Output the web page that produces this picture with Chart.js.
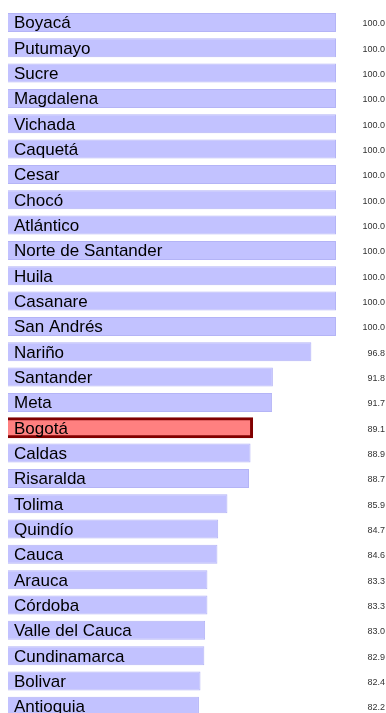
<!DOCTYPE html>
<html lang="es">
  <head>
    <meta charset="UTF-8" />
    <title>Cobertura por departamento</title>
    <script src="https://cdn.jsdelivr.net/npm/chart.js@4"></script>
    <style>
      html, body { margin: 0; padding: 0; background: #fff; overflow: hidden; }
      canvas { display: block; }
    </style>
  </head>
  <body>
    <canvas id="myChart" width="386" height="720"></canvas>
    <script>
      const departamentos = [
        "Boyacá", "Putumayo", "Sucre", "Magdalena", "Vichada", "Caquetá",
        "Cesar", "Chocó", "Atlántico", "Norte de Santander", "Huila",
        "Casanare", "San Andrés", "Nariño", "Santander", "Meta", "Bogotá",
        "Caldas", "Risaralda", "Tolima", "Quindío", "Cauca", "Arauca",
        "Córdoba", "Valle del Cauca", "Cundinamarca", "Bolivar", "Antioquia"
      ];
      const cobertura = [
        100.0, 100.0, 100.0, 100.0, 100.0, 100.0,
        100.0, 100.0, 100.0, 100.0, 100.0,
        100.0, 100.0, 96.8, 91.8, 91.7, 89.1,
        88.9, 88.7, 85.9, 84.7, 84.6, 83.3,
        83.3, 83.0, 82.9, 82.4, 82.2
      ];
      const destacado = "Bogotá";

      const isHighlight = (ctx) => departamentos[ctx.dataIndex] === destacado;

      // names inside the bars, values at the right edge
      const barLabels = {
        id: "barLabels",
        afterDatasetsDraw(chart) {
          const { ctx } = chart;
          const meta = chart.getDatasetMeta(0);
          ctx.save();
          meta.data.forEach((bar, i) => {
            ctx.fillStyle = "#000";
            ctx.font = "17px 'Liberation Sans', Arial, sans-serif";
            ctx.textAlign = "left";
            ctx.textBaseline = "alphabetic";
            ctx.fillText(departamentos[i], 14, bar.y + 6);

            ctx.fillStyle = "#333";
            ctx.font = "9px 'Liberation Sans', Arial, sans-serif";
            ctx.textAlign = "right";
            ctx.textBaseline = "middle";
            ctx.fillText(cobertura[i].toFixed(1), 385, bar.y + 1.5);
          });
          ctx.restore();
        },
      };

      new Chart(document.getElementById("myChart").getContext("2d"), {
        type: "bar",
        data: {
          labels: departamentos,
          datasets: [
            {
              data: cobertura,
              backgroundColor: (c) => (isHighlight(c) ? "#ff8080" : "#c2c2ff"),
              borderColor: (c) => (isHighlight(c) ? "#800000" : "#b4b4f6"),
              borderWidth: (c) => (isHighlight(c) ? 3 : 1),
              inflateAmount: (c) => (isHighlight(c) ? 1 : 0),
              borderSkipped: false,
              barPercentage: 0.75,
              categoryPercentage: 1,
            },
          ],
        },
        options: {
          indexAxis: "y",
          responsive: false,
          animation: false,
          devicePixelRatio: 1,
          layout: { padding: { left: 8, right: 50, top: 9.8, bottom: 1 } },
          plugins: { legend: { display: false }, tooltip: { enabled: false } },
          scales: {
            x: { display: false, min: 57.4, max: 100 },
            y: { display: false, offset: true },
          },
        },
        plugins: [barLabels],
      });
    </script>
  </body>
</html>
